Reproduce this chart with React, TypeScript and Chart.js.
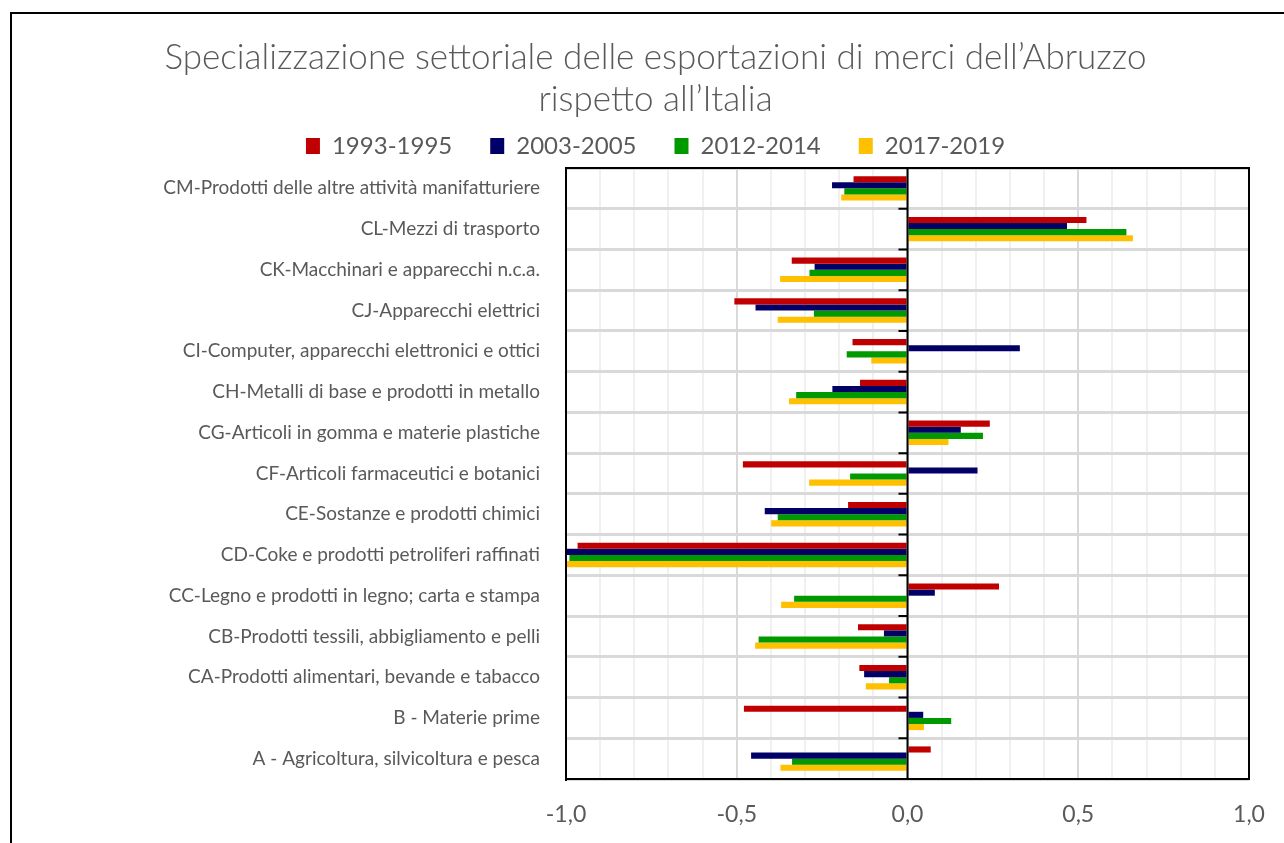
import React, { useEffect, useRef } from "react";
import { Chart, registerables } from "chart.js";

Chart.register(...registerables);

const titleLines = [
  "Specializzazione settoriale delle esportazioni di merci dell’Abruzzo",
  "rispetto all’Italia",
];

const categories = [
  "CM-Prodotti delle altre attività manifatturiere",
  "CL-Mezzi di trasporto",
  "CK-Macchinari e apparecchi n.c.a.",
  "CJ-Apparecchi elettrici",
  "CI-Computer, apparecchi elettronici e ottici",
  "CH-Metalli di base e prodotti in metallo",
  "CG-Articoli in gomma e materie plastiche",
  "CF-Articoli farmaceutici e botanici",
  "CE-Sostanze e prodotti chimici",
  "CD-Coke e prodotti petroliferi raffinati",
  "CC-Legno e prodotti in legno; carta e stampa",
  "CB-Prodotti tessili, abbigliamento e pelli",
  "CA-Prodotti alimentari, bevande e tabacco",
  "B - Materie prime",
  "A - Agricoltura, silvicoltura e pesca",
];

const seriesNames = ["1993-1995", "2003-2005", "2012-2014", "2017-2019"];
const seriesColors = ["#C00000", "#000066", "#009900", "#FFC000"];

const values1993 = [-0.158, 0.524, -0.339, -0.507, -0.161, -0.139, 0.241, -0.482, -0.174, -0.966, 0.268, -0.145, -0.141, -0.479, 0.068];
const values2003 = [-0.221, 0.467, -0.272, -0.445, 0.329, -0.22, 0.156, 0.205, -0.418, -1.0, 0.08, -0.069, -0.127, 0.046, -0.458];
const values2012 = [-0.185, 0.641, -0.287, -0.274, -0.178, -0.326, 0.221, -0.168, -0.38, -0.99, -0.332, -0.436, -0.054, 0.128, -0.338];
const values2017 = [-0.194, 0.66, -0.373, -0.38, -0.106, -0.347, 0.12, -0.288, -0.399, -0.997, -0.37, -0.446, -0.122, 0.048, -0.372];

const allValues = [values1993, values2003, values2012, values2017];

const FONT = "Lato";
const TEXT = "#595959";

const decorPlugin = {
  id: "decor",
  beforeDraw(chart: any) {
    const ctx = chart.ctx;
    ctx.save();
    ctx.fillStyle = "#FFFFFF";
    ctx.fillRect(0, 0, chart.width, chart.height);
    ctx.strokeStyle = "#000000";
    ctx.lineWidth = 2;
    ctx.beginPath();
    ctx.moveTo(11, chart.height + 5);
    ctx.lineTo(11, 13);
    ctx.lineTo(chart.width + 5, 13);
    ctx.stroke();
    ctx.restore();
  },
  afterDatasetsDraw(chart: any) {
    const ctx = chart.ctx;
    const { top, bottom, left, right } = chart.chartArea;
    const x = chart.scales.x;
    const y = chart.scales.y;
    const x0 = x.getPixelForValue(0);
    ctx.save();
    ctx.strokeStyle = "#000000";
    ctx.lineWidth = 2;
    ctx.beginPath();
    ctx.moveTo(x0, top);
    ctx.lineTo(x0, bottom);
    const n = categories.length;
    for (let i = 1; i < n; i++) {
      const yb = (y.getPixelForTick(i - 1) + y.getPixelForTick(i)) / 2;
      ctx.moveTo(x0 - 9, yb);
      ctx.lineTo(x0, yb);
    }
    ctx.stroke();
    ctx.beginPath();
    ctx.rect(left, top, right - left, bottom - top);
    ctx.stroke();
    ctx.restore();
  },
};

function isMajor(v: number) {
  return Math.abs(Math.round(v * 10)) % 5 === 0;
}

export default function App() {
  const ref = useRef<HTMLCanvasElement | null>(null);
  useEffect(() => {
    if (!ref.current) return;
    const chart = new Chart(ref.current, {
      type: "bar",
      data: {
        labels: categories,
        datasets: seriesNames.map((name, i) => ({
          label: name,
          data: allValues[i],
          backgroundColor: seriesColors[i],
          borderWidth: 0,
          categoryPercentage: 0.6,
          barPercentage: 1.0,
        })),
      },
      options: {
        indexAxis: "y",
        animation: false,
        responsive: false,
        maintainAspectRatio: false,
        layout: { padding: { left: 62, right: 35, top: 0, bottom: 0 } },
        plugins: {
          title: {
            display: true,
            text: titleLines,
            color: TEXT,
            font: { family: FONT, size: 35, weight: "300", lineHeight: 1.2 },
            padding: { top: 37, bottom: -25 },
          },
          legend: {
            display: true,
            position: "top",
            labels: {
              color: TEXT,
              font: { family: FONT, size: 24, weight: "400" },
              boxWidth: 14,
              boxHeight: 16,
              padding: 38,
            },
          },
          tooltip: { enabled: false },
        },
        scales: {
          x: {
            type: "linear",
            min: -1,
            max: 1,
            afterFit(scale: any) {
              scale.height = 64;
            },
            ticks: {
              stepSize: 0.1,
              autoSkip: false,
              maxRotation: 0,
              padding: 16,
              color: TEXT,
              font: { family: FONT, size: 23, weight: "400" },
              callback: (v: any) => {
                const n = Number(v);
                if (!isMajor(n)) return "";
                return (Math.round(n * 10) / 10).toFixed(1).replace(".", ",");
              },
            },
            grid: {
              drawTicks: true,
              tickLength: 6,
              tickColor: "rgba(0,0,0,0)",
              color: (c: any) => (isMajor(c.tick?.value ?? 0) ? "#D9D9D9" : "#F0F0F0"),
              lineWidth: 2,
            },
            border: { display: true, color: "#000000", width: 2 },
          },
          y: {
            type: "category",
            afterFit(scale: any) {
              scale.width = 566 - 62;
            },
            ticks: {
              color: TEXT,
              padding: 26,
              autoSkip: false,
              font: { family: FONT, size: 19, weight: "400" },
            },
            grid: {
              offset: true,
              drawTicks: false,
              color: "#D9D9D9",
              lineWidth: 3,
            },
            border: { display: true, color: "#000000", width: 2 },
          },
        },
      },
      plugins: [decorPlugin],
    } as any);
    return () => chart.destroy();
  }, []);
  return (
    <div style={{ position: "absolute", left: 0, top: 0, width: 1284, height: 843 }}>
      <canvas ref={ref} width={1284} height={843} style={{ display: "block" }} />
    </div>
  );
}
